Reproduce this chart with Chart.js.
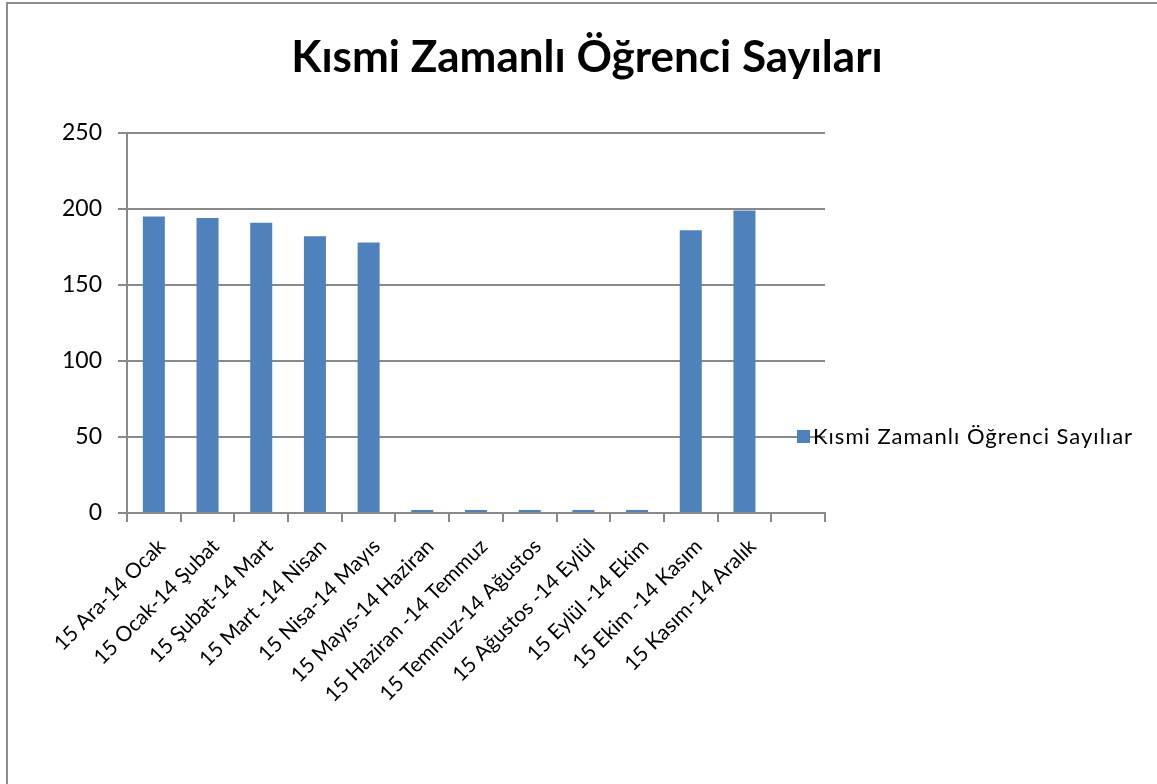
<!DOCTYPE html>
<html>
<head>
<meta charset="utf-8">
<script src="https://cdn.jsdelivr.net/npm/chart.js@4.4.0/dist/chart.umd.min.js"></script>
<style>
  html, body { margin: 0; padding: 0; background: #fff; }
  #wrap { width: 1157px; height: 784px; position: relative; }
</style>
</head>
<body>
<div id="wrap"><canvas id="chart" width="1157" height="784"></canvas></div>
<script>
// ---- Data ----
const categories = [
  "15 Ara-14 Ocak", "15 Ocak-14 Şubat", "15 Şubat-14 Mart", "15 Mart -14 Nisan",
  "15 Nisa-14 Mayıs", "15 Mayıs-14 Haziran", "15 Haziran -14 Temmuz", "15 Temmuz-14 Ağustos",
  "15 Ağustos -14 Eylül", "15 Eylül -14 Ekim", "15 Ekim -14 Kasım", "15 Kasım-14 Aralık", ""
];
const studentCounts = [195, 194, 191, 182, 178, 2, 2, 2, 2, 2, 186, 199, null];
const yTicks = [0, 50, 100, 150, 200, 250];

const seriesName = "Kısmi Zamanlı Öğrenci Sayılıar";
const titleText = "Kısmi Zamanlı Öğrenci Sayıları";
const barColor = "#4f81bd";
const axisGray = "#898989";

// ---- Plugins ----
// white background + outer frame (only left/top edges show in the picture)
const framePlugin = {
  id: "frame",
  beforeDraw(chart) {
    const { ctx, width, height } = chart;
    ctx.save();
    ctx.fillStyle = "#fff";
    ctx.fillRect(0, 0, width, height);
    ctx.strokeStyle = "#8c8c8c";
    ctx.lineWidth = 2;
    ctx.beginPath();
    ctx.moveTo(7, height);
    ctx.lineTo(7, 3);
    ctx.lineTo(width, 3);
    ctx.stroke();
    ctx.restore();
  },
};

// title is centred on the whole frame, not on the plot
const titlePlugin = {
  id: "frameTitle",
  afterDraw(chart) {
    const { ctx } = chart;
    ctx.save();
    ctx.fillStyle = "#000";
    ctx.font = "bold 44px Lato";
    ctx.textAlign = "center";
    ctx.textBaseline = "middle";
    ctx.fillText(titleText, 587, 58);
    ctx.restore();
  },
};

// legend sits slightly over the plot's right edge, like the original
const legendPlugin = {
  id: "sideLegend",
  afterDraw(chart) {
    const { ctx } = chart;
    const x = 797, y = 436;
    ctx.save();
    ctx.fillStyle = barColor;
    ctx.fillRect(x, y - 6, 13, 13);
    ctx.fillStyle = "#000";
    ctx.font = "22px Lato";
    ctx.letterSpacing = "1px";
    ctx.textBaseline = "middle";
    ctx.fillText(seriesName, x + 16, y + 1);
    ctx.restore();
  },
};

new Chart(document.getElementById("chart"), {
  type: "bar",
  data: {
    labels: categories,
    datasets: [{
      label: seriesName,
      data: studentCounts,
      backgroundColor: barColor,
      barPercentage: 0.41,
      categoryPercentage: 1,
    }],
  },
  options: {
    responsive: false,
    animation: false,
    layout: { padding: { left: 0, right: 332, top: 133, bottom: 0 } },
    plugins: {
      legend: { display: false },
      tooltip: { enabled: false },
      title: { display: false },
    },
    scales: {
      x: {
        offset: true,
        grid: {
          offset: true,
          drawOnChartArea: false,
          drawTicks: true,
          tickLength: 9,
          color: axisGray,
          lineWidth: 2,
        },
        border: { color: axisGray, width: 2 },
        ticks: {
          color: "#000",
          font: { family: "Lato", size: 21 },
          maxRotation: 45,
          minRotation: 45,
          autoSkip: false,
          labelOffset: 8,
          padding: 12,
        },
        afterFit(scale) { scale.height = 784 - 513; },
      },
      y: {
        min: 0,
        max: 250,
        afterBuildTicks(scale) { scale.ticks = yTicks.map((v) => ({ value: v })); },
        grid: { color: axisGray, lineWidth: 2, tickLength: 9 },
        border: { color: axisGray, width: 2 },
        ticks: {
          color: "#000",
          font: { family: "Lato", size: 23 },
          padding: 16,
        },
        afterFit(scale) { scale.width = 127; },
      },
    },
  },
  plugins: [framePlugin, titlePlugin, legendPlugin],
});
</script>
</body>
</html>
